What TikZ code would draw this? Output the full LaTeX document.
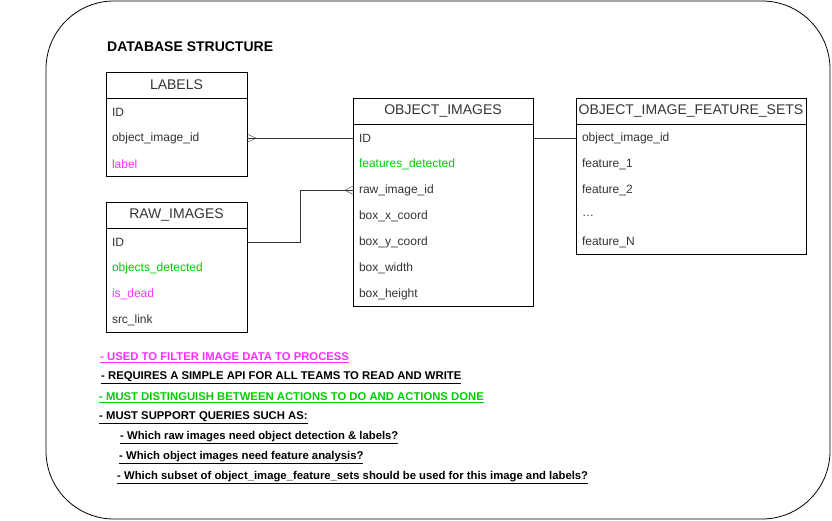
\documentclass[tikz,border=0pt]{standalone}
\usepackage{fontspec}
\setmainfont{Liberation Sans}
\usepackage{xcolor}
\usetikzlibrary{positioning,calc}

\definecolor{fg}{HTML}{333333}
\definecolor{pinkfield}{HTML}{FF33FF}
\definecolor{greenfield}{HTML}{00CC00}

\tikzset{
  hdr/.style={draw, minimum height=26pt, inner sep=0pt, text=fg, font=\fontsize{14}{16}\selectfont},
  body/.style={draw, inner sep=0pt},
  fld/.style={anchor=west, minimum height=26pt, inner xsep=6pt, inner ysep=0pt,
    text width=#1, align=left, font=\fontsize{12}{14}\selectfont},
  note/.style={anchor=west, inner sep=0pt, font=\bfseries\fontsize{11.3}{13}\selectfont},
  link/.style={thick, fg},
}

\begin{document}
\begin{tikzpicture}[x=1pt, y=-1pt]
  \useasboundingbox (0,0) rectangle (832,521);
  \draw[thick, rounded corners=68pt] (46,1) rectangle (830,519);

  \node[anchor=west, inner sep=0pt, font=\bfseries\fontsize{14}{16}\selectfont] (title) at (107,46.5) {DATABASE STRUCTURE};

  % LABELS
  \node[hdr, minimum width=141pt] (lab) at (176.5,85) {LABELS};
  \node[body, minimum width=141pt, minimum height=78pt, below=0pt of lab] (labbody) {};
  \foreach \t/\c [count=\i] in {ID/fg, object\_image\_id/fg, label/pinkfield}
    \path (lab.south west) ++(0,26*\i-12) node[fld=129pt, text=\c] (lab\i) {\t};

  % RAW_IMAGES
  \node[hdr, minimum width=141pt] (raw) at (176.5,215) {RAW\_IMAGES};
  \node[body, minimum width=141pt, minimum height=104pt, below=0pt of raw] (rawbody) {};
  \foreach \t/\c [count=\i] in {ID/fg, objects\_detected/greenfield, is\_dead/pinkfield, src\_link/fg}
    \path (raw.south west) ++(0,26*\i-12) node[fld=129pt, text=\c] (raw\i) {\t};

  % OBJECT_IMAGES
  \node[hdr, minimum width=180pt] (obj) at (443,111) {OBJECT\_IMAGES};
  \node[body, minimum width=180pt, minimum height=182pt, below=0pt of obj] (objbody) {};
  \foreach \t/\c [count=\i] in {ID/fg, features\_detected/greenfield, raw\_image\_id/fg,
      box\_x\_coord/fg, box\_y\_coord/fg, box\_width/fg, box\_height/fg}
    \path (obj.south west) ++(0,26*\i-12) node[fld=168pt, text=\c] (obj\i) {\t};

  % OBJECT_IMAGE_FEATURE_SETS
  \node[hdr, minimum width=230pt] (feat) at (691,111) {OBJECT\_IMAGE\_FEATURE\_SETS};
  \node[body, minimum width=230pt, minimum height=130pt, below=0pt of feat] (featbody) {};
  \foreach \t/\c [count=\i] in {object\_image\_id/fg, feature\_1/fg, feature\_2/fg, \ldots/fg, feature\_N/fg}
    \path (feat.south west) ++(0,26*\i-12) node[fld=218pt, text=\c] (feat\i) {\t};

  % relations
  \draw[link] (lab2.east) -- (obj1.west);
  \draw[fg] (lab2.east) ++(0,-4) -- ++(9,4) -- ++(-9,4);
  \draw[link] (raw1.east) -- ++(53,0) |- (obj3.west);
  \draw[fg] (obj3.west) ++(0,-4) -- ++(-8,4) -- ++(8,4);
  \draw[link] (obj1.east) -- (feat1.west);

  % notes
  \node[note, text=pinkfield!90!magenta] (n1) at (100,358) {\underline{- USED TO FILTER IMAGE DATA TO PROCESS}};
  \node[note] (n2) at (101,378) {\underline{- REQUIRES A SIMPLE API FOR ALL TEAMS TO READ AND WRITE}};
  \node[note, text=greenfield] (n3) at (99,398) {\underline{- MUST DISTINGUISH BETWEEN ACTIONS TO DO AND ACTIONS DONE}};
  \node[note] (n4) at (99,418) {\underline{- MUST SUPPORT QUERIES SUCH AS:}};
  \node[note] (n5) at (120,438) {\underline{- Which raw images need object detection \& labels?}};
  \node[note] (n6) at (119,458) {\underline{- Which object images need feature analysis?}};
  \node[note] (n7) at (117,478) {\underline{- Which subset of object\_image\_feature\_sets should be used for this image and labels?}};
\end{tikzpicture}
\end{document}
